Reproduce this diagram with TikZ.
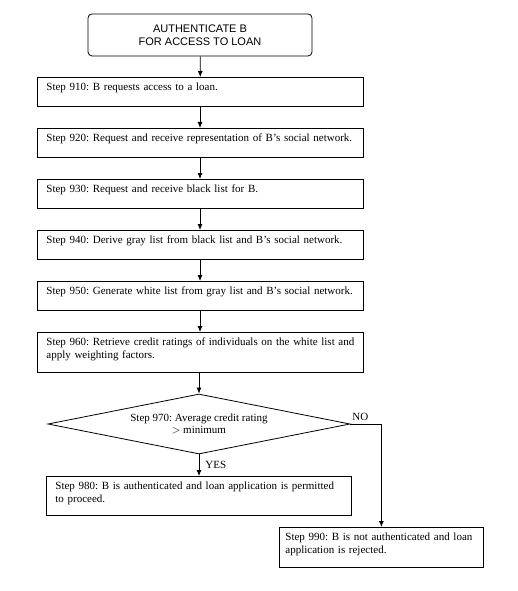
\documentclass[tikz,border=0pt]{standalone}
\usepackage{fontspec}
\setmainfont{Liberation Serif}
\newfontfamily\headfont{Liberation Sans}
\usetikzlibrary{arrows.meta, positioning, shapes.geometric}

\tikzset{
	stepbox/.style={draw, line width=0.8pt, anchor=north west, align=left,
		inner xsep=9pt, inner ysep=2.5pt, text height=11pt,
		font=\fontsize{11}{12.5}\selectfont},
	startbox/.style={draw, line width=0.8pt, rounded corners=4pt, align=center,
		minimum width=224pt, minimum height=42pt,
		font=\headfont\fontsize{11}{12.5}\selectfont},
	decision/.style={draw, line width=0.8pt, diamond, aspect=5, inner sep=0pt,
		minimum width=302pt, minimum height=60pt, align=center,
		font=\fontsize{11}{12.5}\selectfont},
	flow/.style={line width=0.8pt, -{Latex[length=6pt, width=5pt]}},
	answer/.style={font=\fontsize{11}{12.5}\selectfont, inner sep=1pt}
}

\begin{document}
\frenchspacing
\begin{tikzpicture}[x=1pt, y=-1pt]
	\useasboundingbox (0,0) rectangle (518,591);
	% Start
	\node[startbox] (start) at (200,35) {AUTHENTICATE B\\FOR ACCESS TO LOAN};
	% Steps
	\node[stepbox, text width=308pt, text depth=13.2pt] (s910) at (37,77) {Step 910: B requests access to a loan.};
	\node[stepbox, text width=308pt, text depth=13.2pt] (s920) at (37,128) {Step 920: Request and receive representation of B's social network.};
	\node[stepbox, text width=308pt, text depth=13.2pt] (s930) at (37,179) {Step 930: Request and receive black list for B.};
	\node[stepbox, text width=308pt, text depth=13.2pt] (s940) at (37,230) {Step 940: Derive gray list from black list and B's social network.};
	\node[stepbox, text width=308pt, text depth=13.2pt] (s950) at (37,281) {Step 950: Generate white list from gray list and B's social network.};
	\node[stepbox, text width=308pt, text depth=24.2pt] (s960) at (37,332) {Step 960: Retrieve credit ratings of individuals on the white list and\\apply weighting factors.};
	% Decision
	\node[decision] (s970) at (199,424) {Step 970: Average credit rating\\$>$ minimum};
	% Outcomes
	\node[stepbox, text width=287pt, text depth=23.2pt] (s980) at (46,476) {Step 980: B is authenticated and loan application is permitted\\to proceed.};
	\node[stepbox, text width=192pt, inner xsep=6pt, text depth=24.2pt] (s990) at (279,527) {Step 990: B is not authenticated and loan\\application is rejected.};

	% Arrows
	\draw[flow] (start) -- (s910);
	\draw[flow] (s910.south -| start) -- (s920.north -| start);
	\draw[flow] (s920.south -| start) -- (s930.north -| start);
	\draw[flow] (s930.south -| start) -- (s940.north -| start);
	\draw[flow] (s940.south -| start) -- (s950.north -| start);
	\draw[flow] (s950.south -| start) -- (s960.north -| start);
	\draw[flow] (s960.south -| s970) -- (s970.north);
	\draw[flow] (s970.south) -- node[answer, right=5pt, pos=0.5] {YES} (s980.north -| s970);
	\draw[flow] (s970.east) -| node[answer, above right, pos=0.01, yshift=2pt] {NO} (s990.north);
\end{tikzpicture}
\end{document}
